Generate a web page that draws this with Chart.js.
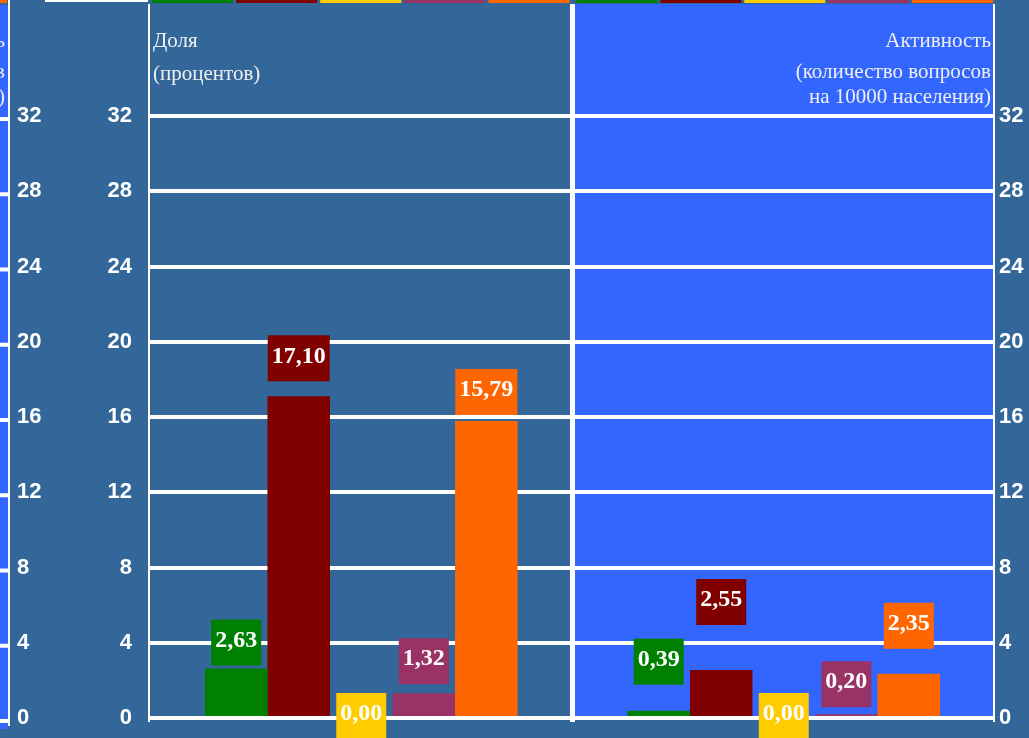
<!DOCTYPE html>
<html lang="ru">
<head>
    <meta charset="UTF-8">
    <title>Доля и активность</title>
    <script src="https://cdn.jsdelivr.net/npm/chart.js@4/dist/chart.umd.min.js"></script>
    <style>
        body { margin: 0; background: #336699; }
        #wrap { position: relative; width: 1029px; height: 738px; }
    </style>
</head>
<body>
    <div id="wrap"><canvas id="grafik"></canvas></div>

    <script>
        // Категории (две панели) и значения пяти рядов
        const categories = ['Доля', 'Активность'];
        const series1 = [2.63, 0.39];
        const series2 = [17.10, 2.55];
        const series3 = [0.00, 0.00];
        const series4 = [1.32, 0.20];
        const series5 = [15.79, 2.35];
        const seriesNames = ['Ряд 1', 'Ряд 2', 'Ряд 3', 'Ряд 4', 'Ряд 5'];
        const yMin = 0, yMax = 32, yStep = 4;

        const leftTitle = ['Доля', '(процентов)'];
        const rightTitle = ['Активность', '(количество вопросов', 'на 10000 населения)'];

        const colors = ['#008000', '#800000', '#FFCC00', '#993366', '#FF6600'];
        const BG = '#336699';
        const PANEL = '#3366FF';
        // отступ подписи от верха столбика (px), по панелям
        const labelGap = [[3, 26], [15, 45], [-21, -21], [9, 7], [6, 25]];

        const fmt = v => v.toFixed(2).replace('.', ',');

        const decor = {
            id: 'decor',
            beforeDraw(chart) {
                const ctx = chart.ctx;
                const a = chart.chartArea;
                const xs = chart.scales.x;
                const ys = chart.scales.y;
                const mid = (xs.getPixelForValue(0) + xs.getPixelForValue(1)) / 2;
                ctx.save();
                ctx.fillStyle = BG;
                ctx.fillRect(0, 0, chart.width, chart.height);

                // правая панель
                ctx.fillStyle = PANEL;
                ctx.fillRect(mid, 4, a.right - mid, a.bottom - 2);

                // узкая полоса слева (край соседней панели)
                ctx.fillRect(0, 5, 8, a.bottom + 6);
                ctx.fillStyle = '#fff';
                ctx.fillRect(8, 0, 2, a.bottom + 8);
                for (let v = yMin; v <= yMax; v += yStep) {
                    ctx.fillRect(0, ys.getPixelForValue(v) + 1, 8, 4);
                }
                ctx.fillStyle = colors[4];
                ctx.fillRect(0, 0, 7, 3);
                ctx.fillStyle = '#fff';
                ctx.fillRect(45, 0, 103, 2);

                ctx.save();
                ctx.beginPath();
                ctx.rect(0, 0, 8, 120);
                ctx.clip();
                ctx.fillStyle = '#f0f0f0';
                ctx.font = '21px "Liberation Serif", "Times New Roman", serif';
                ctx.textAlign = 'right';
                ctx.fillText(rightTitle[0], 5, 47);
                ctx.fillText(rightTitle[1], 5, 78);
                ctx.fillText(rightTitle[2], 5, 103);
                ctx.restore();

                // цветная кромка сверху
                const strip = (x0, x1) => {
                    const w = (x1 - x0) / 5;
                    colors.forEach((c, i) => {
                        ctx.fillStyle = c;
                        ctx.fillRect(x0 + i * w + 2, 0, w - 3, 3);
                    });
                };
                strip(a.left, mid - 2);
                strip(mid + 2, a.right - 1);
                ctx.restore();
            },
            beforeDatasetsDraw(chart) {
                const ctx = chart.ctx;
                const a = chart.chartArea;
                const xs = chart.scales.x;
                const mid = (xs.getPixelForValue(0) + xs.getPixelForValue(1)) / 2;
                ctx.save();
                ctx.fillStyle = '#fff';
                ctx.fillRect(a.left - 2, 4, 2, a.bottom);
                ctx.fillRect(mid - 2.5, 4, 5, a.bottom);
                ctx.fillRect(a.right - 2, 4, 2, a.bottom);

                ctx.fillStyle = '#f0f0f0';
                ctx.font = '21px "Liberation Serif", "Times New Roman", serif';
                ctx.textAlign = 'left';
                ctx.fillText(leftTitle[0], a.left + 3, 47);
                ctx.fillText(leftTitle[1], a.left + 3, 80);
                ctx.textAlign = 'right';
                ctx.fillText(rightTitle[0], a.right - 4, 47);
                ctx.fillText(rightTitle[1], a.right - 4, 78);
                ctx.fillText(rightTitle[2], a.right - 4, 103);
                ctx.restore();
            },
            afterDatasetsDraw(chart) {
                const ctx = chart.ctx;
                ctx.save();
                ctx.font = 'bold 24px "Liberation Serif", "Times New Roman", serif';
                ctx.textAlign = 'center';
                ctx.textBaseline = 'middle';
                chart.data.datasets.forEach((ds, i) => {
                    chart.getDatasetMeta(i).data.forEach((el, j) => {
                        const txt = fmt(ds.data[j]);
                        const w = ctx.measureText(txt).width + 8;
                        const h = 46;
                        const bottom = el.y - labelGap[i][j];
                        ctx.fillStyle = ds.backgroundColor;
                        ctx.fillRect(el.x - w / 2, bottom - h, w, h);
                        ctx.fillStyle = '#fff';
                        ctx.fillText(txt, el.x, bottom - h / 2 - 2);
                    });
                });
                ctx.restore();
            }
        };

        const tickFont = { family: '"Liberation Sans", Arial, sans-serif', weight: 'bold', size: 22 };
        const fixAxis = w => s => { s.width = w; s.paddingTop = 0; s.paddingBottom = 0; };

        new Chart(document.getElementById('grafik'), {
            type: 'bar',
            data: {
                labels: categories,
                datasets: [series1, series2, series3, series4, series5].map((d, i) => ({
                    label: seriesNames[i],
                    data: d,
                    backgroundColor: colors[i],
                    borderWidth: 0
                }))
            },
            options: {
                responsive: true,
                maintainAspectRatio: false,
                animation: false,
                layout: { padding: { top: 116, bottom: 20, left: 17, right: 0 } },
                datasets: { bar: { categoryPercentage: 0.74, barPercentage: 1 } },
                plugins: {
                    legend: { display: false },
                    tooltip: { enabled: false }
                },
                scales: {
                    x: { display: false, offset: true },
                    y: {
                        position: 'left',
                        min: yMin, max: yMax,
                        afterFit: fixAxis(105),
                        ticks: { stepSize: yStep, color: '#fff', font: tickFont, padding: 18 },
                        grid: { color: '#fff', lineWidth: 4, drawTicks: false },
                        border: { display: false }
                    },
                    yOuter: {
                        position: 'left',
                        min: yMin, max: yMax,
                        afterFit: fixAxis(28),
                        ticks: { stepSize: yStep, color: '#fff', font: tickFont, crossAlign: 'far' },
                        grid: { display: false, drawTicks: false },
                        border: { display: false }
                    },
                    y2: {
                        position: 'right',
                        min: yMin, max: yMax,
                        afterFit: fixAxis(34),
                        ticks: { stepSize: yStep, color: '#fff', font: tickFont, padding: 4 },
                        grid: { display: false, drawTicks: false },
                        border: { display: false }
                    }
                }
            },
            plugins: [decor]
        });
    </script>
</body>
</html>
